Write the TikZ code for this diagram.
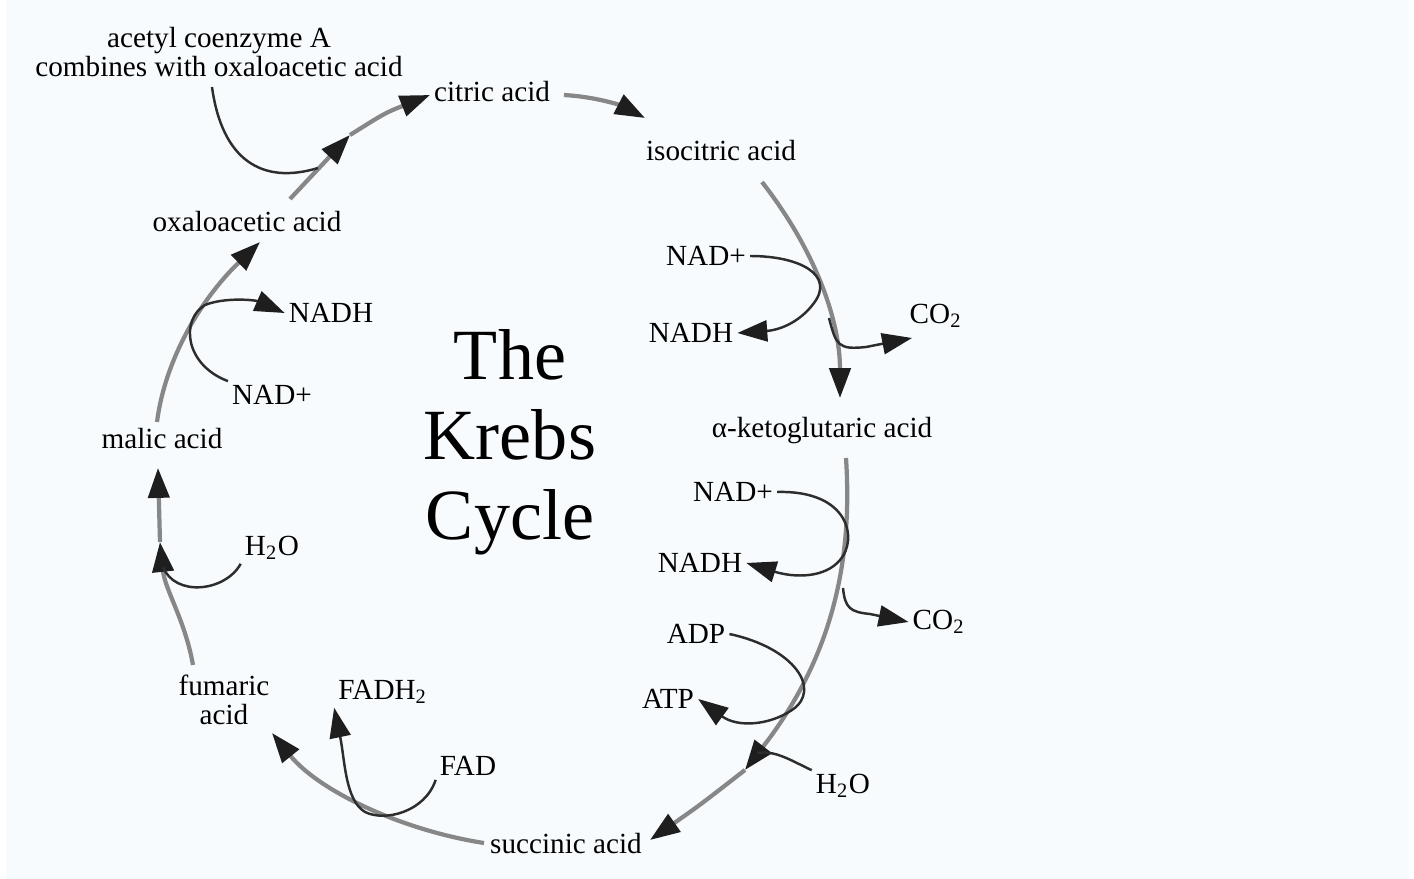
\documentclass[tikz,border=0pt]{standalone}
\usepackage{fontspec}
\setmainfont{Liberation Serif}
\usepackage{xcolor}
\usepackage{tikz}
\usetikzlibrary{arrows.meta}
\definecolor{paper}{RGB}{247,251,253}
\definecolor{cyclegray}{RGB}{135,135,135}
\definecolor{sidedark}{RGB}{45,45,45}
\definecolor{tipdark}{RGB}{30,30,30}
\tikzstyle{label} = [font=\fontsize{8.3}{8.4}\selectfont, inner sep=1pt, text=black]
\tikzstyle{title} = [font=\fontsize{20.5}{22.8}\selectfont, align=center, inner sep=0pt]
\tikzstyle{cycle} = [line width=1.2pt, draw=cyclegray, -{Triangle[length=8.5pt,width=6pt,color=tipdark]}]
\tikzstyle{cycleline} = [line width=1.2pt, draw=cyclegray]
\tikzstyle{side} = [line width=0.7pt, draw=sidedark, -{Triangle[length=8.5pt,width=6pt,color=tipdark]}]
\tikzstyle{sideline} = [line width=0.7pt, draw=sidedark]

\begin{document}
\begin{tikzpicture}[x=0.01cm, y=-0.01cm]

\fill[white] (0,0) rectangle (1414,879);
\fill[paper] (6,0) rectangle (1409,879);
\useasboundingbox (0,0) rectangle (1414,879);

\node (acetyl) [label, align=center] at (219,52) {acetyl coenzyme A\\combines with oxaloacetic acid};
\node (citric) [label] at (492,92) {citric acid};
\node (isocitric) [label] at (721,151) {isocitric acid};
\node (nadA) [label] at (706,256) {NAD+};
\node (nadhA) [label] at (691,333) {NADH};
\node (coA) [label] at (936,316) {CO\textsubscript{2}};
\node (keto) [label] at (822,431) {α-ketoglutaric acid};
\node (nadB) [label] at (733,492) {NAD+};
\node (nadhB) [label] at (700,563) {NADH};
\node (coB) [label] at (939,622) {CO\textsubscript{2}};
\node (adp) [label] at (696,634) {ADP};
\node (atp) [label] at (668,699) {ATP};
\node (waterB) [label] at (843,786) {H\textsubscript{2}O};
\node (succinic) [label] at (566,844) {succinic acid};
\node (fad) [label] at (468,766) {FAD};
\node (fadh) [label] at (383,692) {FADH\textsubscript{2}};
\node (fumaric) [label, align=center] at (224,700) {fumaric\\acid};
\node (waterA) [label] at (272,548) {H\textsubscript{2}O};
\node (malic) [label] at (162,439) {malic acid};
\node (nadC) [label] at (272,395) {NAD+};
\node (nadhC) [label] at (331,313) {NADH};
\node (oxalo) [label] at (247,222) {oxaloacetic acid};
\node (krebs) [title] at (510,442) {The\\Krebs\\Cycle};

\coordinate (a1) at (290,199);
\coordinate (a2) at (350,135);
\coordinate (a3) at (430,95);
\coordinate (b1) at (564,95);
\coordinate (b2) at (645,118);
\coordinate (c1) at (762,182);
\coordinate (c2) at (840,398);
\coordinate (co1) at (912,338);
\coordinate (d1) at (846,458);
\coordinate (d2) at (745,770);
\coordinate (d3) at (650,840);
\coordinate (e1) at (484,843);
\coordinate (e2) at (272,733);
\coordinate (f1) at (193,665);
\coordinate (f2) at (160,542);
\coordinate (f3) at (158,468);
\coordinate (g1) at (157,422);
\coordinate (g2) at (260,242);

\draw [cycle] (a1) -- (a2);
\draw [cycle] (a2) .. controls (385,113) .. (a3);
\draw [sideline] (212,87) .. controls (222,160) and (262,185) .. (318,168);
\draw [cycle] (b1) .. controls (598,97) and (622,106) .. (b2);

\draw [cycle] (c1) .. controls (815,250) and (840,320) .. (c2);
\draw [side] (nadA.east) .. controls (800,256) and (835,275) .. (814,303) .. controls (800,322) and (780,330) .. (nadhA.east);
\draw [side] (829,318) .. controls (836,345) and (838,350) .. (866,347) -- (co1);

\draw [cycle] (d1) .. controls (852,550) and (838,650) .. (d2);
\draw [cycle] (d2) .. controls (700,805) .. (d3);
\draw [side] (nadB.east) .. controls (850,490) and (858,540) .. (840,560) .. controls (825,578) and (795,578) .. (nadhB.east);
\draw [side] (843,588) .. controls (845,608) and (850,612) .. (870,614) -- (coB.west);
\draw [side] (adp.east) .. controls (795,648) and (822,690) .. (792,710) .. controls (770,725) and (738,728) .. (atp.east);
\draw [sideline] (waterB.north west) .. controls (790,760) and (775,750) .. (757,753);

\draw [cycle] (e1) .. controls (400,830) and (318,790) .. (e2);
\draw [side] (fad.south west) .. controls (425,812) and (385,822) .. (365,812) .. controls (345,800) and (345,760) .. (fadh.south west);

\draw [cycle] (f1) .. controls (185,620) and (165,590) .. (f2);
\draw [cycle] (f2) -- (f3);
\draw [sideline] (waterA.south west) .. controls (225,592) and (175,597) .. (163,567);

\draw [cycle] (g1) .. controls (165,360) and (200,300) .. (g2);
\draw [side] (nadC.north west) .. controls (185,365) and (180,320) .. (205,305) .. controls (225,297) and (255,300) .. (nadhC.west);

\end{tikzpicture}
\end{document}
